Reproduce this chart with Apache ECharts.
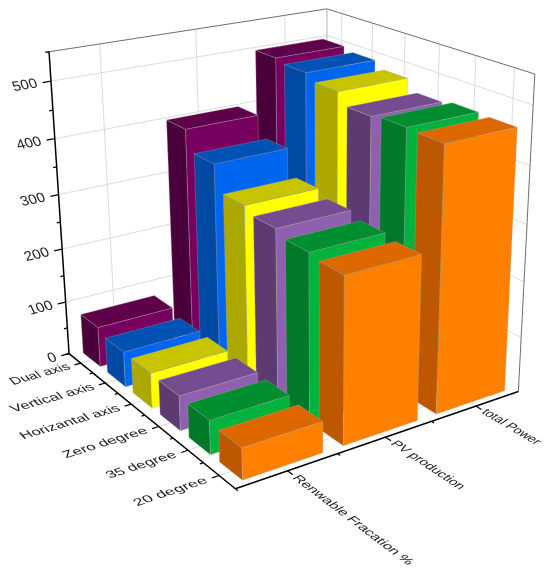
<!DOCTYPE html>
<html><head><meta charset="utf-8">
<style>html,body{margin:0;padding:0;background:#fff}#c{width:550px;height:572px}</style>
<script src="https://cdn.jsdelivr.net/npm/echarts@6/dist/echarts.min.js"></script>
</head><body><div id="c"></div>
<script>
const categories = ['Renwable Fracation %', 'PV production', 'total Power'];
const groupNames = ['Dual axis', 'Vertical axis', 'Horizantal axis', 'Zero degree', '35 degree', '20 degree'];
const dualAxis = [75, 400, 498];
const verticalAxis = [65, 363, 492];
const horizantalAxis = [64, 317, 480];
const zeroDegree = [62, 306, 460];
const degree35 = [60, 296, 465];
const degree20 = [55, 290, 463];
const groupValues = [dualAxis, verticalAxis, horizantalAxis, zeroDegree, degree35, degree20];
const valueTicks = [0, 100, 200, 300, 400, 500];
const valueMax = 550;
const faceColors = [
  ['#78005f', '#5e004a', '#4a003b'],
  ['#0066f0', '#0052b4', '#004aa4'],
  ['#ffff00', '#c9c400', '#ada800'],
  ['#9060b0', '#754c90', '#5c3a72'],
  ['#00b33c', '#008f30', '#007a28'],
  ['#ff8000', '#dd6800', '#bd5800']
];
const xLabelStretch = [1.11, 1.02, 0.98];
const groupLabelStretch = [1.13, 1.23, 1.2, 1.22, 1.22, 1.29];

// camera calibration: frame position (x,y,z in 0..1) -> pixel
const anchors = [
  [0,0,0,235,489],[0,1,0,69,353],[1,0,0,518,392],[0,1,1,49,52],[1,0,1,535,74],[1,1,1,327,8.5],
  [0,1,0.1818,65,302],[0,1,0.5455,58,195],[0.5,0,0,386,437],[0,0.5,0,146,415],
  [1,0.0833,1,514,67],[1,0.9167,1,342,14],[0.1667,1,1,100,44],[0.5,1,1,196,29]
];
function solveCamera(pts){
  const n=11, A=Array.from({length:n},()=>new Array(n+1).fill(0));
  const add=(r,b)=>{for(let i=0;i<n;i++){for(let j=0;j<n;j++)A[i][j]+=r[i]*r[j];A[i][n]+=r[i]*b;}};
  pts.forEach(([X,Y,Z,u,v])=>{
    add([X,Y,Z,1,0,0,0,0,-u*X,-u*Y,-u*Z],u);
    add([0,0,0,0,X,Y,Z,1,-v*X,-v*Y,-v*Z],v);
  });
  for(let c=0;c<n;c++){
    let p=c;for(let r=c+1;r<n;r++)if(Math.abs(A[r][c])>Math.abs(A[p][c]))p=r;
    [A[c],A[p]]=[A[p],A[c]];
    for(let r=0;r<n;r++){if(r===c)continue;const f=A[r][c]/A[c][c];for(let k=c;k<=n;k++)A[r][k]-=f*A[c][k];}
  }
  return A.map((row,i)=>row[n]/row[i]);
}
const cam = solveCamera(anchors);
function P(x,y,z){
  const w=cam[8]*x+cam[9]*y+cam[10]*z+1;
  return [(cam[0]*x+cam[1]*y+cam[2]*z+cam[3])/w,(cam[4]*x+cam[5]*y+cam[6]*z+cam[7])/w];
}
const W=550,H=572, nC=categories.length, nG=groupNames.length;
const BAR_X=0.79/nC/2, BAR_X_SHIFT=0.012/nC, BAR_Y=0.71/nG/2, BAR_Y_SHIFT=0.015/nG;
const FONT='"Liberation Sans", Arial, sans-serif';
const yOf=i=>(nG-1-i+0.5)/nG;   // group index -> depth across the floor
function angle(a,b){return -Math.atan2(b[1]-a[1],b[0]-a[0]);}
function seg(a,b,stroke,lw){return {type:'line',shape:{x1:a[0],y1:a[1],x2:b[0],y2:b[1]},style:{stroke,lineWidth:lw}};}
function txt(p,text,rot,size,align,sx,sy,skew){return {type:'text',x:p[0],y:p[1],rotation:rot,scaleX:sx,scaleY:sy,skewX:skew,
  style:{text,fill:'#1c1c1c',font:size+'px '+FONT,align,verticalAlign:'middle'}};}

function renderFrame(params,api){
  const ch=[], grid='#dcdcdc', edge='#6e6e6e';
  const zOf=v=>(H-api.coord([0,v])[1])/H;
  valueTicks.slice(1).forEach(v=>{const z=zOf(v);
    ch.push(seg(P(0,1,z),P(1,1,z),grid,1),seg(P(1,1,z),P(1,0,z),grid,1));});
  categories.forEach((c,i)=>{const x=api.coord([i,0])[0]/W;
    ch.push(seg(P(x,1,0),P(x,1,1),grid,1),seg(P(x,0,0),P(x,1,0),grid,1));});
  groupNames.forEach((g,i)=>{const y=yOf(i);
    ch.push(seg(P(1,y,0),P(1,y,1),grid,1),seg(P(0,y,0),P(1,y,0),grid,1));});
  ch.push(seg(P(0,1,1),P(1,1,1),edge,1),seg(P(1,1,1),P(1,0,1),edge,1),seg(P(1,0,1),P(1,0,0),edge,1),
          seg(P(1,1,1),P(1,1,0),'#b0b0b0',1));
  return {type:'group',children:ch};
}
function renderAxes(params,api){
  const ch=[], k='#000';
  const zOf=v=>(H-api.coord([0,v])[1])/H;
  ch.push(seg(P(0,1,0),P(0,1,1),k,1.5),seg(P(0,0,0),P(0,1,0),k,1.5),seg(P(0,0,0),P(1,0,0),k,1.5));
  for(let v=0;v<=valueMax;v+=50){const z=zOf(v),maj=valueTicks.includes(v);
    ch.push(seg(P(0,1,z),P(maj?-0.027:-0.012,1,z),k,1.3));}
  valueTicks.forEach(v=>{const z=zOf(v);
    ch.push(txt(P(-0.045,1,z),String(v),angle(P(0,1,z),P(1,1,z)),14,'right',1.05,1,0.2));});
  categories.forEach((c,i)=>{
    const x=api.coord([i,0])[0]/W, bw=api.size([1,0])[0]/W;
    ch.push(seg(P(x,0,0),P(x,-0.025,0),k,1.2));
    ch.push(seg(P(x-bw/2,0,0),P(x-bw/2,-0.012,0),k,1.2));
    ch.push(txt(P(x,-0.035,0),c,angle(P(x,1,0),P(x,0,0)),13,'left',xLabelStretch[i],0.88,-0.45));
  });
  groupNames.forEach((g,i)=>{
    const y=yOf(i);
    ch.push(seg(P(0,y,0),P(-0.022,y,0),k,1.2));
    ch.push(seg(P(0,y+0.5/nG,0),P(-0.011,y+0.5/nG,0),k,1.2));
    ch.push(txt(P(-0.04,y,0),g,angle(P(0,y,0),P(1,y,0)),13,'right',groupLabelStretch[i],0.85,0.45));
  });
  return {type:'group',children:ch};
}
function makeBar(gi){
  return function(params,api){
    const xc=api.coord([api.value(0),0])[0]/W+BAR_X_SHIFT, z=(H-api.coord([0,api.value(1)])[1])/H;
    const yc=yOf(gi)+BAR_Y_SHIFT, x0=xc-BAR_X,x1=xc+BAR_X,y0=yc-BAR_Y,y1=yc+BAR_Y;
    const [front,top,side]=faceColors[gi];
    const line='rgba(170,170,170,0.4)';
    const face=(pts,fill)=>({type:'polygon',shape:{points:pts},style:{fill,stroke:line,lineWidth:0.8}});
    return {type:'group',children:[
      face([P(x0,y0,0),P(x0,y1,0),P(x0,y1,z),P(x0,y0,z)],side),
      face([P(x0,y0,0),P(x1,y0,0),P(x1,y0,z),P(x0,y0,z)],front),
      face([P(x0,y0,z),P(x1,y0,z),P(x1,y1,z),P(x0,y1,z)],top)
    ]};
  };
}
const chart=echarts.init(document.getElementById('c'),null,{renderer:'canvas'});
const series=[{type:'custom',name:'frame',silent:true,data:[[0,0]],encode:{x:0,y:1},renderItem:renderFrame,z:1}];
groupNames.forEach((g,gi)=>{
  series.push({type:'custom',name:g,silent:true,encode:{x:0,y:1},z:2,
    data:groupValues[gi].map((v,i)=>[i,v]).reverse(),renderItem:makeBar(gi)});
});
series.push({type:'custom',name:'axes',silent:true,data:[[0,0]],encode:{x:0,y:1},renderItem:renderAxes,z:3});
chart.setOption({
  animation:false,backgroundColor:'#fff',
  grid:{left:0,right:0,top:0,bottom:0},
  xAxis:{type:'category',data:categories,show:false},
  yAxis:{type:'value',min:0,max:valueMax,interval:50,show:false},
  series
});
</script></body></html>
